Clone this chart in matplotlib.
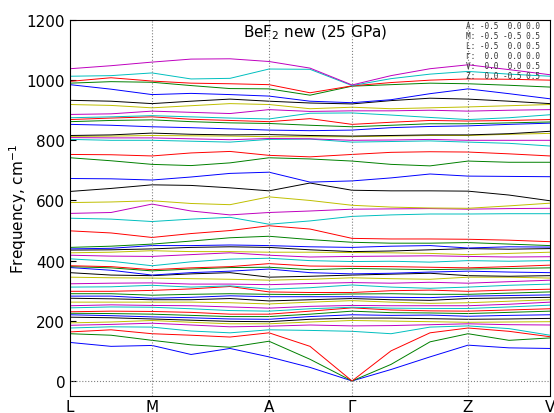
"""Phonon dispersion of BeF2 (25 GPa) along L-M-A-G-Z-V."""

import matplotlib
matplotlib.use("Agg")
import matplotlib.pyplot as plt
import numpy as np


# high-symmetry points and their path coordinate
kpoint_labels = ["L", "M", "A", "\u0393", "Z", "V"]
kpoint_dist = [0, 82, 199, 282, 398, 480]

# path coordinate of each sampled q-point
q_dist = [0, 41, 82, 121, 160, 199, 240, 282, 321, 360, 398, 439, 480]

# frequencies (cm^-1), bands sorted from lowest, one row per band
bands_low = [
    [128, 115, 118, 88, 108, 80, 45, 0, 38, 80, 119, 110, 108],
    [157, 152, 135, 120, 112, 132, 72, 0, 55, 130, 157, 135, 143],
    [163, 170, 157, 152, 146, 160, 115, 0, 100, 160, 176, 165, 147],
    [176, 180, 179, 166, 160, 170, 168, 165, 157, 179, 183, 174, 152],
    [185, 188, 192, 186, 180, 182, 186, 183, 184, 187, 190, 187, 186],
    [193, 196, 201, 195, 190, 190, 196, 201, 199, 197, 195, 196, 197],
    [212, 210, 206, 202, 198, 197, 205, 209, 209, 207, 205, 206, 208],
    [220, 217, 213, 210, 206, 205, 214, 220, 218, 219, 215, 218, 220],
    [225, 224, 222, 218, 214, 214, 222, 232, 227, 226, 224, 228, 232],
    [230, 232, 231, 228, 222, 222, 232, 243, 236, 233, 232, 236, 240],
    [243, 246, 245, 240, 234, 232, 240, 245, 242, 241, 241, 246, 252],
    [250, 253, 251, 250, 246, 242, 248, 251, 250, 250, 250, 255, 262],
    [262, 262, 262, 262, 260, 256, 262, 267, 262, 258, 260, 265, 270],
    [275, 273, 270, 270, 274, 266, 270, 274, 270, 268, 274, 276, 278],
    [282, 282, 275, 278, 283, 280, 280, 280, 278, 277, 282, 284, 286],
    [290, 290, 285, 288, 290, 288, 287, 289, 290, 288, 288, 292, 296],
]

bands_mid = [
    [298, 298, 301, 306, 314, 296, 294, 294, 300, 302, 298, 302, 305],
    [312, 313, 318, 312, 316, 305, 310, 319, 312, 308, 312, 318, 322],
    [323, 325, 326, 322, 322, 320, 324, 327, 325, 328, 325, 330, 335],
    [345, 343, 342, 340, 338, 335, 338, 343, 340, 338, 345, 345, 342],
    [360, 352, 350, 356, 360, 345, 348, 352, 355, 358, 350, 348, 350],
    [377, 368, 352, 360, 365, 372, 360, 356, 358, 362, 365, 362, 360],
    [380, 376, 366, 372, 377, 378, 370, 374, 372, 370, 372, 374, 376],
    [383, 380, 370, 376, 380, 390, 382, 381, 380, 378, 376, 380, 385],
    [406, 398, 383, 396, 405, 408, 400, 397, 398, 395, 400, 398, 400],
    [418, 415, 414, 420, 426, 418, 412, 414, 415, 416, 414, 412, 413],
    [426, 428, 433, 430, 430, 428, 428, 427, 426, 424, 420, 424, 428],
    [435, 436, 439, 444, 446, 444, 436, 430, 432, 436, 440, 438, 440],
    [439, 441, 450, 450, 452, 450, 446, 444, 448, 450, 442, 446, 445],
    [444, 448, 455, 465, 476, 481, 470, 461, 458, 458, 460, 455, 450],
    [499, 492, 477, 490, 500, 516, 505, 474, 472, 472, 471, 468, 463],
    [541, 538, 530, 538, 544, 521, 532, 547, 552, 555, 555, 556, 556],
    [557, 560, 588, 565, 552, 560, 565, 571, 572, 573, 571, 573, 574],
    [593, 595, 599, 590, 586, 612, 600, 584, 578, 575, 574, 582, 591],
]

bands_high = [
    [630, 640, 652, 650, 642, 632, 658, 634, 632, 632, 631, 618, 599],
    [673, 672, 668, 678, 690, 694, 661, 665, 675, 688, 681, 680, 679],
    [742, 732, 720, 716, 725, 742, 738, 731, 720, 715, 731, 727, 727],
    [753, 752, 748, 758, 763, 750, 745, 753, 760, 762, 761, 755, 748],
    [803, 800, 800, 797, 794, 803, 805, 794, 796, 798, 794, 790, 781],
    [809, 808, 808, 805, 802, 806, 804, 800, 801, 803, 800, 800, 800],
    [813, 814, 816, 815, 814, 812, 812, 812, 814, 816, 816, 820, 823],
    [816, 818, 824, 820, 818, 819, 816, 814, 816, 818, 818, 822, 830],
    [853, 850, 845, 842, 838, 834, 832, 834, 842, 846, 848, 853, 857],
    [862, 866, 868, 862, 858, 856, 850, 845, 850, 855, 855, 858, 861],
    [869, 874, 878, 870, 866, 862, 872, 853, 860, 866, 864, 866, 869],
    [875, 878, 882, 878, 874, 871, 890, 891, 884, 876, 869, 875, 885],
    [886, 888, 897, 893, 889, 902, 896, 898, 898, 900, 897, 900, 902],
    [919, 916, 908, 915, 922, 919, 905, 910, 905, 908, 911, 915, 919],
    [933, 930, 922, 930, 937, 930, 924, 921, 932, 940, 937, 930, 922],
    [985, 970, 952, 956, 952, 947, 930, 925, 935, 955, 971, 955, 938],
    [990, 995, 993, 982, 972, 971, 950, 980, 985, 990, 988, 983, 977],
    [996, 1008, 997, 990, 988, 985, 958, 981, 992, 1000, 1004, 1003, 1000],
    [1013, 1015, 1024, 1004, 1006, 1037, 1036, 982, 1005, 1020, 1029, 1020, 1013],
    [1038, 1048, 1060, 1070, 1071, 1062, 1040, 984, 1015, 1038, 1051, 1035, 1018],
]

kpoint_coords = [
    "A: -0.5  0.0 0.0",
    "M: -0.5 -0.5 0.5",
    "L: -0.5  0.0 0.5",
    "\u0393:  0.0  0.0 0.0",
    "V:  0.0  0.0 0.5",
    "Z:  0.0 -0.5 0.5",
]

COLORS = ["b", "g", "r", "c", "m", "y", "k"]


def main() -> None:
    bands = np.array(bands_low + bands_mid + bands_high, dtype=float)
    bands = np.sort(bands, axis=0)

    fig = plt.figure(figsize=(5.54, 4.14), dpi=100)
    ax = fig.add_axes([0.1264, 0.0411, 0.8664, 0.9082])

    for i, band in enumerate(bands):
        ax.plot(q_dist, band, color=COLORS[i % len(COLORS)], lw=0.7)

    for x in kpoint_dist[1:-1]:
        ax.axvline(x, color="gray", ls=":", lw=0.8)
    ax.axhline(0, color="gray", ls=":", lw=0.8)

    ax.set_xlim(kpoint_dist[0], kpoint_dist[-1])
    ax.set_ylim(-50, 1200)
    ax.set_xticks(kpoint_dist)
    ax.set_xticklabels(kpoint_labels, fontsize=11)
    ax.set_yticks(range(0, 1201, 200))
    ax.tick_params(axis="y", labelsize=11, direction="in", length=4)
    ax.tick_params(axis="x", length=0, pad=2)
    ax.set_ylabel(r"Frequency, cm$^{-1}$", fontsize=11)
    ax.yaxis.set_label_coords(-0.085, 0.5)

    ax.text(
        0.36, 0.968, r"BeF$_2$ new (25 GPa)",
        transform=ax.transAxes, fontsize=11, va="center", ha="left",
    )
    ax.text(
        0.826, 0.997, "\n".join(kpoint_coords),
        transform=ax.transAxes, fontsize=5.6, va="top", ha="left",
        family="DejaVu Sans Mono", color="#333333", linespacing=1.15,
    )

    fig.savefig("out.png", dpi=100)
    plt.close(fig)


if __name__ == "__main__":
    main()
